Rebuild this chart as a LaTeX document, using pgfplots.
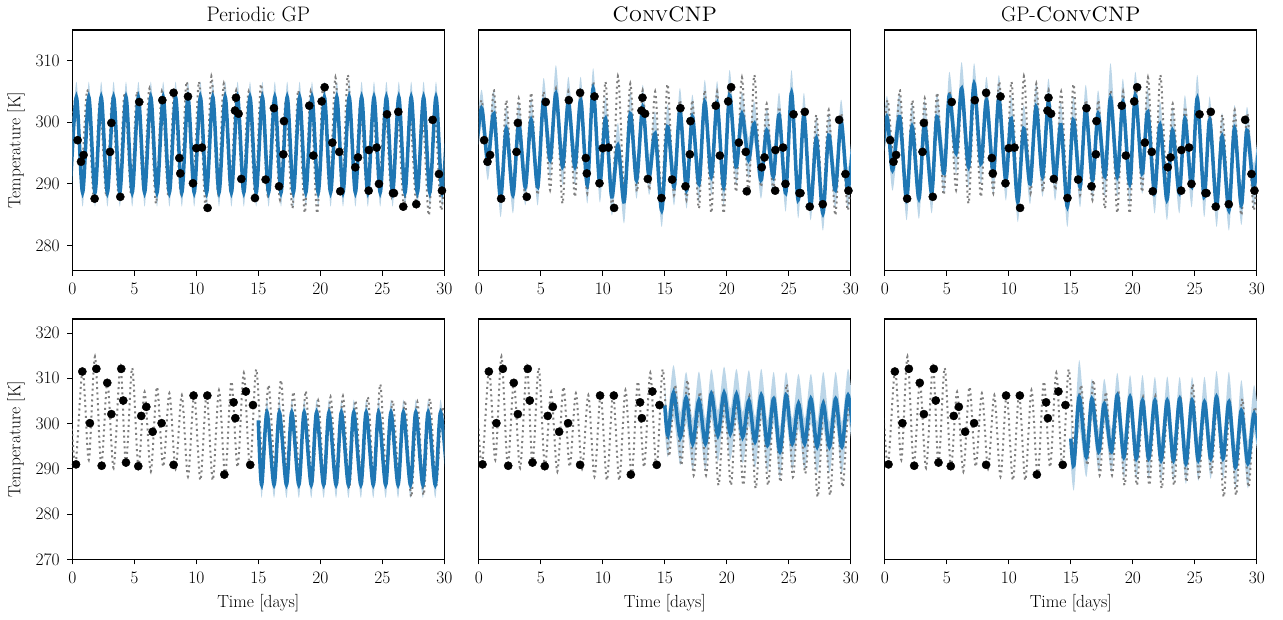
\documentclass[border=0pt]{standalone}
\usepackage{pgfplots}
\pgfplotsset{compat=1.18}
\usepackage{pgfplotstable}
\usepgfplotslibrary{fillbetween}
\definecolor{tabblue}{HTML}{1F77B4}
\definecolor{tabgray}{HTML}{7F7F7F}
\definecolor{bandblue}{HTML}{BCD6E8}

% ---------- top row: true signal ----------
\pgfplotstableread{
x y
-0.25 291.0
0.22 303.6
0.75 292.8
1.22 305.2
1.75 287.4
2.22 303.6
2.75 287.9
3.22 303.9
3.75 287.9
4.22 304.8
4.75 288.2
5.22 305.0
5.75 289.0
6.22 305.5
6.75 286.8
7.22 305.0
7.75 287.9
8.22 305.0
8.75 288.5
9.22 306.6
9.75 289.5
10.22 306.6
10.75 286.3
11.22 307.5
11.75 288.5
12.22 306.3
12.75 288.7
13.22 305.2
13.75 289.0
14.22 305.0
14.75 287.9
15.22 306.2
15.75 288.2
16.22 303.6
16.75 287.4
17.22 303.6
17.75 286.0
18.22 305.2
18.75 285.3
19.22 305.0
19.75 285.2
20.22 305.8
20.75 288.7
21.22 307.3
21.75 288.7
22.22 307.7
22.75 289.5
23.22 303.0
23.75 289.0
24.22 302.5
24.75 289.5
25.22 303.0
25.75 287.9
26.22 302.0
26.75 286.3
27.22 301.2
27.75 286.8
28.22 302.0
28.75 284.9
29.22 301.5
29.75 285.7
30.22 299.0
}\TT

% ---------- top row: context points ----------
\pgfplotstableread{
x y
0.43 297.1
0.70 293.6
0.91 294.7
1.80 287.6
3.04 295.2
3.15 299.9
3.87 287.9
5.40 303.3
7.26 303.6
8.17 304.8
8.63 294.2
8.71 291.7
9.33 304.2
9.73 290.1
10.00 295.8
10.46 295.9
10.91 286.1
13.12 301.9
13.20 304.0
13.41 301.4
13.63 290.8
14.73 287.7
15.59 290.7
16.26 302.3
16.67 289.6
17.02 294.8
17.07 300.2
19.11 302.7
19.44 294.6
20.11 303.4
20.35 305.7
20.97 296.7
21.53 295.2
21.61 288.8
22.82 292.7
23.04 294.3
23.90 288.9
23.92 295.5
24.54 295.9
24.73 290.0
25.38 301.3
25.86 288.5
25.94 288.5
26.29 301.7
26.69 286.3
27.74 286.7
29.06 300.4
29.57 291.6
29.81 288.9
}\TD

% ---------- top left: periodic GP ----------
\pgfplotstableread{
x m u l
-0.17 288.6 291.1 286.3
0.33 304.1 306.6 301.8
0.83 288.6 291.1 286.3
1.33 304.1 306.6 301.8
1.83 288.6 291.1 286.3
2.33 304.1 306.6 301.8
2.83 288.6 291.1 286.3
3.33 304.1 306.6 301.8
3.83 288.6 291.1 286.3
4.33 304.1 306.6 301.8
4.83 288.6 291.1 286.3
5.33 304.1 306.6 301.8
5.83 288.6 291.1 286.3
6.33 304.1 306.6 301.8
6.83 288.6 291.1 286.3
7.33 304.1 306.6 301.8
7.83 288.6 291.1 286.3
8.33 304.1 306.6 301.8
8.83 288.6 291.1 286.3
9.33 304.1 306.6 301.8
9.83 288.6 291.1 286.3
10.33 304.1 306.6 301.8
10.83 288.6 291.1 286.3
11.33 304.1 306.6 301.8
11.83 288.6 291.1 286.3
12.33 304.1 306.6 301.8
12.83 288.6 291.1 286.3
13.33 304.1 306.6 301.8
13.83 288.6 291.1 286.3
14.33 304.1 306.6 301.8
14.83 288.6 291.1 286.3
15.33 304.1 306.6 301.8
15.83 288.6 291.1 286.3
16.33 304.1 306.6 301.8
16.83 288.6 291.1 286.3
17.33 304.1 306.6 301.8
17.83 288.6 291.1 286.3
18.33 304.1 306.6 301.8
18.83 288.6 291.1 286.3
19.33 304.1 306.6 301.8
19.83 288.6 291.1 286.3
20.33 304.1 306.6 301.8
20.83 288.6 291.1 286.3
21.33 304.1 306.6 301.8
21.83 288.6 291.1 286.3
22.33 304.1 306.6 301.8
22.83 288.6 291.1 286.3
23.33 304.1 306.6 301.8
23.83 288.6 291.1 286.3
24.33 304.1 306.6 301.8
24.83 288.6 291.1 286.3
25.33 304.1 306.6 301.8
25.83 288.6 291.1 286.3
26.33 304.1 306.6 301.8
26.83 288.6 291.1 286.3
27.33 304.1 306.6 301.8
27.83 288.6 291.1 286.3
28.33 304.1 306.6 301.8
28.83 288.6 291.1 286.3
29.33 304.1 306.6 301.8
29.83 288.6 291.1 286.3
30.33 304.1 306.6 301.8
}\TLm

% ---------- top middle: ConvCNP ----------
\pgfplotstableread{
x m u l
-0.30 293.0 296.6 290.0
0.22 302.3 305.3 299.3
0.72 293.6 297.2 290.6
1.22 301.4 305.2 298.4
1.75 287.6 291.2 284.6
2.22 299.0 302.6 296.0
2.75 288.2 291.8 285.2
3.22 299.8 303.4 296.8
3.75 289.5 293.1 286.5
4.22 300.4 304.0 297.4
4.75 289.5 293.1 286.5
5.22 303.6 307.2 300.6
5.75 293.9 297.5 290.9
6.22 304.7 309.3 301.7
6.75 292.8 296.4 289.8
7.22 303.3 307.4 300.3
7.75 292.8 296.4 289.8
8.22 303.6 307.4 300.6
8.75 289.8 293.4 286.8
9.22 305.5 308.8 302.5
9.75 290.0 293.6 287.0
10.22 300.6 304.2 297.6
10.72 287.9 291.5 284.9
11.22 296.3 299.9 293.3
11.72 287.1 290.7 283.6
12.22 301.4 305.0 298.4
12.72 290.6 294.2 287.6
13.22 302.5 306.1 299.5
13.72 291.2 294.8 288.2
14.22 298.2 301.8 295.2
14.75 285.7 289.3 283.0
15.22 299.3 302.9 296.3
15.75 289.5 293.1 286.5
16.22 302.0 305.6 299.0
16.75 289.0 292.6 286.0
17.22 300.9 304.5 297.9
17.75 290.0 293.6 287.0
18.22 303.3 306.9 300.3
18.75 291.2 294.8 288.2
19.22 303.1 306.7 300.1
19.75 289.5 293.1 286.5
20.22 304.4 308.5 301.4
20.75 292.8 296.4 289.8
21.22 301.4 305.0 298.4
21.75 293.9 297.5 290.9
22.22 299.8 303.4 296.8
22.75 290.6 294.2 287.6
23.22 298.7 302.3 295.7
23.75 291.2 294.8 288.2
24.22 301.2 304.8 298.2
24.75 288.5 292.1 285.5
25.22 304.8 308.5 301.8
25.75 287.4 291.0 284.4
26.22 301.2 304.8 298.2
26.75 286.3 289.9 284.1
27.22 297.4 301.0 294.4
27.75 285.2 288.8 282.4
28.22 297.9 301.5 294.9
28.75 289.0 292.6 286.0
29.22 300.1 303.7 297.1
29.75 289.0 292.6 286.0
30.22 298.0 301.6 295.0
}\TMm

% ---------- top right: GP-ConvCNP ----------
\pgfplotstableread{
x m u l
-0.30 292.0 295.8 288.7
0.17 300.9 304.3 297.6
0.62 292.2 296.0 288.9
1.20 300.9 304.7 297.6
1.75 287.4 291.2 284.1
2.20 299.3 303.1 296.0
2.75 287.6 291.4 284.3
3.20 299.8 303.6 296.5
3.78 288.5 292.3 285.2
4.20 300.9 304.7 297.6
4.78 291.7 295.5 288.4
5.20 304.4 308.2 301.1
5.75 295.0 298.8 291.7
6.20 305.5 309.8 302.2
6.75 292.8 296.6 289.5
7.20 306.3 309.6 303.0
7.75 293.3 297.1 290.0
8.20 303.6 307.4 300.3
8.75 291.7 295.5 288.4
9.20 303.9 307.7 300.6
9.75 290.6 294.4 287.3
10.20 300.6 304.4 297.3
10.72 287.1 290.9 283.8
11.20 299.0 302.8 295.7
11.72 290.0 293.8 286.7
12.20 302.5 306.3 299.2
12.72 291.2 295.0 287.9
13.20 303.3 307.1 300.0
13.72 290.6 294.4 287.3
14.20 299.6 303.4 296.3
14.72 286.3 290.1 283.0
15.20 300.4 304.2 297.1
15.75 289.5 293.3 286.2
16.20 302.3 306.1 299.0
16.75 290.6 294.4 287.3
17.20 301.4 305.2 298.1
17.75 291.2 295.0 287.9
18.20 303.9 309.6 300.6
18.75 291.2 295.0 287.9
19.20 303.3 307.1 300.0
19.75 290.0 293.8 286.7
20.20 304.4 308.2 301.1
20.75 291.7 295.5 288.4
21.20 301.7 305.5 298.4
21.75 288.5 292.3 285.2
22.20 299.6 303.4 296.3
22.75 287.4 291.2 284.1
23.20 298.7 302.5 295.4
23.75 288.5 292.3 285.2
24.20 300.6 304.4 297.3
24.75 289.5 293.3 286.2
25.20 303.9 307.7 300.6
25.75 287.9 291.7 284.6
26.20 300.4 304.2 297.1
26.75 286.3 290.1 283.0
27.20 297.7 301.5 294.4
27.75 285.7 289.5 282.4
28.20 299.0 302.8 295.7
28.75 286.6 290.4 283.3
29.20 298.7 302.5 295.4
29.75 289.5 293.3 286.2
30.20 297.0 300.8 293.7
}\TRm

% ---------- bottom row: true signal ----------
\pgfplotstableread{
x y
-0.17 306.0
0.25 290.8
0.83 311.8
1.33 292.0
1.83 314.8
2.33 290.7
2.83 309.3
3.33 290.2
3.88 312.6
4.33 291.2
4.83 312.3
5.33 290.5
5.83 307.0
6.33 289.4
6.83 308.1
7.33 290.5
7.83 306.7
8.33 290.0
8.83 306.3
9.33 288.3
9.83 306.5
10.33 287.5
10.83 306.5
11.33 287.5
11.83 307.4
12.33 288.5
12.83 309.3
13.33 290.4
13.83 311.2
14.33 290.0
14.83 312.0
15.33 292.8
15.83 308.5
16.33 290.8
16.83 309.6
17.33 288.6
17.83 307.0
18.33 288.6
18.83 307.2
19.33 286.4
19.83 305.1
20.33 286.4
20.83 305.9
21.33 286.4
21.83 306.1
22.33 285.7
22.83 305.1
23.33 286.4
23.83 305.9
24.33 287.1
24.83 308.7
25.33 288.2
25.83 305.1
26.33 289.0
26.83 305.1
27.33 283.8
27.83 304.8
28.33 284.2
28.83 305.5
29.33 286.0
29.83 303.7
30.33 290.0
}\BT

% ---------- bottom row: context points ----------
\pgfplotstableread{
x y
0.30 291.0
0.81 311.5
1.42 300.1
1.94 312.1
2.37 290.7
2.82 309.0
3.15 302.1
3.95 312.1
4.11 305.1
4.33 291.4
5.32 290.6
5.56 301.7
5.97 303.7
6.48 298.2
7.20 300.1
8.17 290.9
9.78 306.2
10.89 306.2
12.26 288.75
13.01 304.7
13.15 301.2
14.00 307.1
14.35 290.9
14.57 304.1
}\BD

% ---------- bottom left: periodic GP ----------
\pgfplotstableread{
x m u l
15.00 300.7 303.4 297.8
15.27 286.5 289.4 283.6
15.70 302.5 305.3 299.6
16.27 286.5 289.4 283.6
16.70 302.5 305.3 299.6
17.27 286.5 289.4 283.6
17.70 302.5 305.3 299.6
18.27 286.5 289.4 283.6
18.70 302.5 305.3 299.6
19.27 286.5 289.4 283.6
19.70 302.5 305.3 299.6
20.27 286.5 289.4 283.6
20.70 302.5 305.3 299.6
21.27 286.5 289.4 283.6
21.70 302.5 305.3 299.6
22.27 286.5 289.4 283.6
22.70 302.5 305.3 299.6
23.27 286.5 289.4 283.6
23.70 302.5 305.3 299.6
24.27 286.5 289.4 283.6
24.70 302.5 305.3 299.6
25.27 286.5 289.4 283.6
25.70 302.5 305.3 299.6
26.27 286.5 289.4 283.6
26.70 302.5 305.3 299.6
27.27 286.5 289.4 283.6
27.70 302.5 305.3 299.6
28.27 286.5 289.4 283.6
28.70 302.5 305.3 299.6
29.27 286.5 289.4 283.6
29.70 302.5 305.3 299.6
30.27 286.5 289.4 283.6
}\BLm

% ---------- bottom middle: ConvCNP ----------
\pgfplotstableread{
x m u l
15.00 304.0 309.0 298.5
15.25 297.4 302.4 292.6
15.70 306.8 312.9 301.3
16.25 297.0 302.5 290.8
16.72 305.7 311.4 300.2
17.25 295.6 301.1 289.8
17.75 305.1 311.5 299.6
18.28 295.6 301.1 289.8
18.75 306.6 312.0 301.1
19.28 297.4 302.9 291.6
19.78 306.8 312.6 301.3
20.28 297.8 303.3 292.0
20.78 306.5 312.1 301.0
21.28 297.0 302.5 291.2
21.78 305.1 311.8 299.6
22.28 296.0 301.5 290.2
22.78 306.3 312.1 300.8
23.28 295.2 300.7 289.4
23.78 305.5 311.4 300.0
24.28 293.8 299.3 288.0
24.78 306.3 311.4 300.8
25.28 295.6 301.1 289.8
25.78 304.4 311.0 298.9
26.28 295.6 301.1 289.8
26.78 305.5 311.0 300.0
27.28 294.9 300.4 289.1
27.78 304.4 311.4 298.9
28.28 294.9 300.4 289.1
28.78 305.5 311.4 300.0
29.28 294.9 300.4 289.1
29.78 306.3 312.1 300.8
30.28 295.0 300.5 289.2
}\BMm

% ---------- bottom right: GP-ConvCNP ----------
\pgfplotstableread{
x m u l
15.00 296.7 302.0 291.0
15.25 290.8 296.0 285.3
15.68 305.9 314.0 299.0
16.25 292.6 297.6 288.2
16.70 305.5 309.9 301.0
17.25 293.8 298.8 289.3
17.70 304.4 309.9 299.9
18.28 293.8 298.8 289.3
18.75 306.3 311.2 301.8
19.28 292.6 297.6 288.1
19.78 305.9 310.7 301.4
20.28 292.3 297.3 287.8
20.78 305.1 310.7 300.6
21.28 292.3 297.3 287.8
21.78 305.1 310.3 300.6
22.28 291.9 296.9 287.4
22.78 305.1 310.4 300.6
23.28 291.9 296.9 287.4
23.78 305.5 310.3 301.0
24.28 291.2 296.2 286.7
24.78 305.1 310.3 300.6
25.28 291.9 296.9 287.4
25.78 304.8 310.3 300.3
26.28 292.3 297.3 287.8
26.75 305.9 311.6 301.4
27.28 292.3 297.3 287.8
27.75 304.8 311.4 300.3
28.28 290.4 295.4 285.9
28.75 302.9 309.6 298.4
29.28 291.2 296.2 285.7
29.78 302.2 308.5 297.7
30.28 292.0 297.0 287.5
}\BRm

\pgfplotsset{
  /pgf/number format/assume math mode=true,
  every tick label/.append style={font=\fontsize{17.5}{21}\selectfont},
  every axis title/.style={at={(0.5,1)}, anchor=base, yshift=8pt, font=\fontsize{21}{25}\selectfont},
  every axis y label/.style={at={(axis description cs:-0.1513,0.5)}, rotate=90, anchor=center, font=\fontsize{17.5}{21}\selectfont},
  every axis x label/.style={at={(axis description cs:0.5,0)}, anchor=base, yshift=-48.5pt, font=\fontsize{17.5}{21}\selectfont},
  base/.style={scale only axis, width=372pt, xmin=0, xmax=30, xtick={0,5,...,30},
    tick align=outside, major tick length=5pt,
    tick style={line width=1pt, black},
    axis line style={line width=1.1pt},
    xticklabel shift=3.5pt, yticklabel shift=4pt,
    xtick pos=bottom, ytick pos=left},
  toprow/.style={base, height=240.7pt, ymin=275.9, ymax=315, ytick={280,290,300,310}},
  botrow/.style={base, height=240.5pt, ymin=270, ymax=323.1, ytick={270,280,...,320}},
  noy/.style={yticklabels={}, ytick style={draw=none}},
  truth/.style={tabgray, line width=2pt, dash pattern=on 2pt off 3.4pt, smooth},
  meanl/.style={tabblue, line width=3.5pt, smooth},
  ctx/.style={only marks, mark=*, mark size=4.1pt, black, mark options={draw=black, fill=black}},
}

\newcommand{\panel}[2]{%
  \addplot[name path=u, draw=none, smooth] table[x=x, y=u] {#1};
  \addplot[name path=l, draw=none, smooth] table[x=x, y=l] {#1};
  \addplot[fill=bandblue, draw=none] fill between[of=u and l];
  \addplot[truth] table[x=x, y=y] {#2};
  \addplot[meanl] table[x=x, y=m] {#1};
}

\begin{document}
\begin{tikzpicture}

% top row
\begin{axis}[toprow, at={(72.3pt,349.3pt)}, anchor=south west,
  title={Periodic GP}, ylabel={Temperature [K]}]
  \panel{\TLm}{\TT}
  \addplot[ctx] table {\TD};
\end{axis}
\begin{axis}[toprow, noy, at={(478.8pt,349.3pt)}, anchor=south west,
  title={\textsc{ConvCNP}}]
  \panel{\TMm}{\TT}
  \addplot[ctx] table {\TD};
\end{axis}
\begin{axis}[toprow, noy, at={(884.8pt,349.3pt)}, anchor=south west,
  title={GP-\textsc{ConvCNP}}]
  \panel{\TRm}{\TT}
  \addplot[ctx] table {\TD};
\end{axis}

% bottom row
\begin{axis}[botrow, at={(72.3pt,60.5pt)}, anchor=south west,
  ylabel={Temperature [K]}, xlabel={Time [days]}]
  \panel{\BLm}{\BT}
  \addplot[ctx] table {\BD};
\end{axis}
\begin{axis}[botrow, noy, at={(478.8pt,60.5pt)}, anchor=south west,
  xlabel={Time [days]}]
  \panel{\BMm}{\BT}
  \addplot[ctx] table {\BD};
\end{axis}
\begin{axis}[botrow, noy, at={(884.8pt,60.5pt)}, anchor=south west,
  xlabel={Time [days]}]
  \panel{\BRm}{\BT}
  \addplot[ctx] table {\BD};
\end{axis}

\path (0,0) rectangle (1283pt,620pt);
\end{tikzpicture}
\end{document}
